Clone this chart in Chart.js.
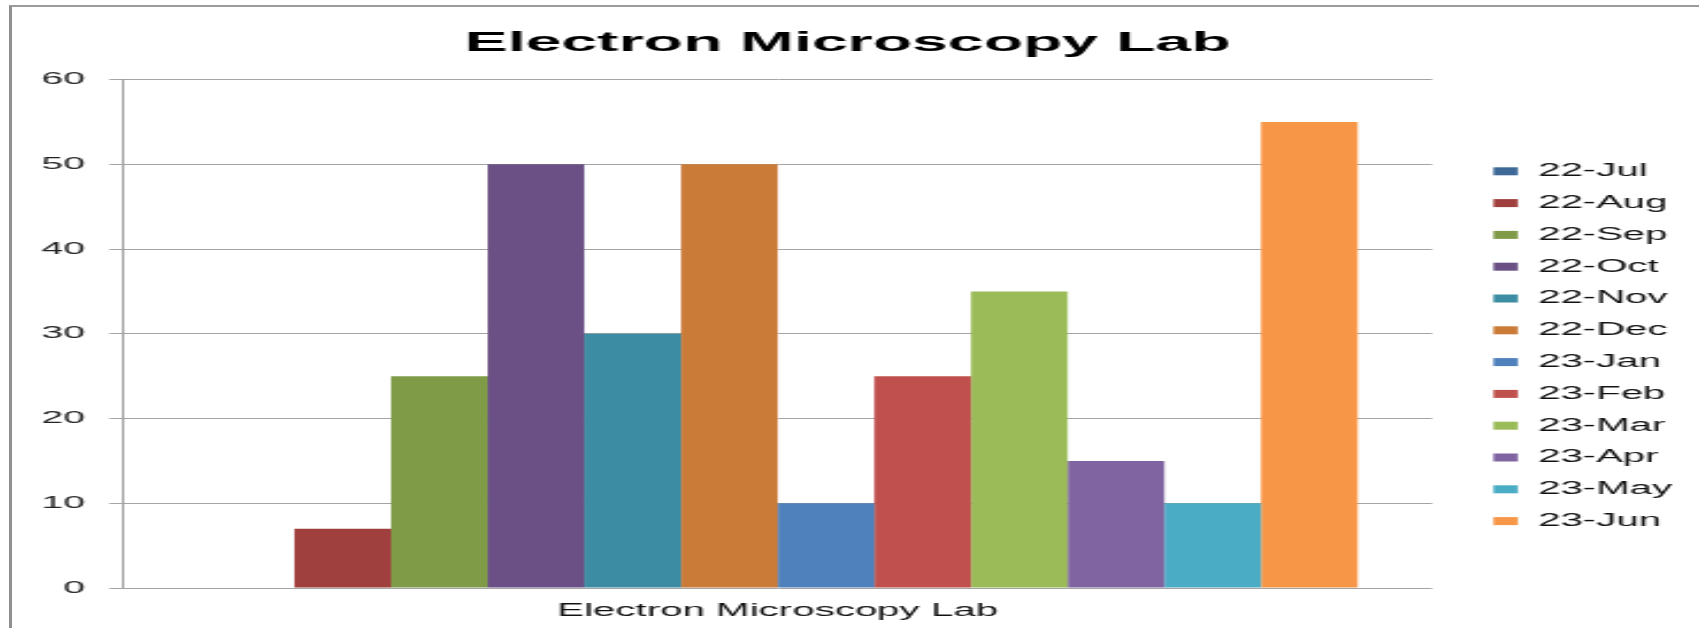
<!DOCTYPE html>
<html>
<head>
<meta charset="utf-8">
<title>Electron Microscopy Lab</title>
<script src="https://cdn.jsdelivr.net/npm/chart.js@4.4.1/dist/chart.umd.min.js"></script>
<style>
  html, body { margin: 0; padding: 0; background: #fff; overflow: hidden; }
  #frame {
    position: absolute; left: 9px; top: 5px; width: 1760px; height: 700px;
    border-left: 3px solid #8f8f8f; border-top: 2px solid #9c9c9c;
  }
  /* the original picture is an Excel chart stretched sideways */
  #wrap {
    position: absolute; left: 0; top: 0; width: 739px; height: 628px;
    transform: scaleX(2.3); transform-origin: 0 0;
  }
</style>
</head>
<body>
<div id="frame"></div>
<div id="wrap"><canvas id="labChart" width="739" height="628"></canvas></div>
<script>
const category = ['Electron Microscopy Lab'];
const months = ['22-Jul', '22-Aug', '22-Sep', '22-Oct', '22-Nov', '22-Dec',
                '23-Jan', '23-Feb', '23-Mar', '23-Apr', '23-May', '23-Jun'];
const counts = [0, 7, 25, 50, 30, 50, 10, 25, 35, 15, 10, 55];
const colors = ['#3d6898', '#a0403e', '#7f9b48', '#6a5084', '#3c8ca3', '#cb7b38',
                '#4f81bd', '#c0504d', '#9bbb59', '#8064a2', '#4bacc6', '#f79646'];
const yMin = 0, yMax = 60, yStep = 10;

const fontFam = "'Liberation Sans', Arial, sans-serif";

const datasets = months.map((m, i) => ({
    label: m,
    data: [counts[i]],
    backgroundColor: colors[i],
    borderWidth: 0,
    barPercentage: 1,
    categoryPercentage: 0.886
}));

const config = {
    type: 'bar',
    data: {
        labels: category,
        datasets: datasets
    },
    options: {
        responsive: false,
        devicePixelRatio: 1,
        animation: false,
        layout: { padding: { left: 0, right: 2, top: 0, bottom: 0 } },
        plugins: {
            title: {
                display: true,
                text: 'Electron Microscopy Lab',
                color: '#000',
                font: { family: fontFam, size: 28, weight: 'bold' },
                padding: { top: 26, bottom: 20 }
            },
            legend: {
                position: 'right',
                align: 'center',
                // blank legend title, only pushes the entries down a bit
                title: {
                    display: true,
                    text: ' ',
                    font: { size: 12 },
                    padding: 25
                },
                labels: {
                    boxWidth: 10.6,
                    boxHeight: 8,
                    padding: 14.3,
                    color: '#111',
                    font: { family: fontFam, size: 17.5 }
                }
            },
            tooltip: { enabled: false }
        },
        scales: {
            x: {
                grid: { display: false },
                border: { display: false },
                ticks: {
                    color: '#111',
                    padding: 5,
                    font: { family: fontFam, size: 17.5 }
                },
                afterFit(s) { s.height = 40; }
            },
            y: {
                min: yMin,
                max: yMax,
                ticks: {
                    stepSize: yStep,
                    color: '#222',
                    padding: 10.5,
                    font: { family: fontFam, size: 17 }
                },
                grid: { color: '#a4a4a4', lineWidth: 1, tickLength: 6 },
                border: { color: '#a0a0a0', width: 1 },
                afterFit(s) { s.width = 53.5; }
            },
            // empty axis only used as a gap between the plot and the legend
            gap: {
                position: 'right',
                display: true,
                grid: { display: false },
                border: { display: false },
                ticks: { display: false },
                afterFit(s) { s.width = 12.3; }
            }
        }
    }
};

const labChart = new Chart(document.getElementById('labChart'), config);
</script>
</body>
</html>
